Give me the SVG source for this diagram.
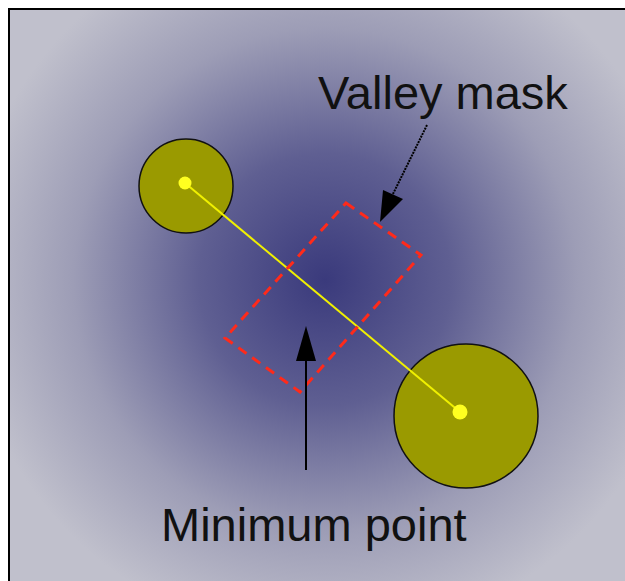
<svg xmlns="http://www.w3.org/2000/svg" width="625" height="581" viewBox="0 0 625 581">
<defs>
<radialGradient id="bg" cx="325" cy="280" r="360" gradientUnits="userSpaceOnUse">
<stop offset="0" stop-color="#3a3a7c"/>
<stop offset="0.35" stop-color="#5f5f92"/>
<stop offset="0.7" stop-color="#9d9db6"/>
<stop offset="1" stop-color="#c0c0cc"/>
</radialGradient>
<style>
.lbl{font-family:"Liberation Sans",Arial,sans-serif;font-size:47px;fill:#111}
.big{fill:#9a9a00;stroke:#111;stroke-width:1.5}
.dot{fill:#ffff20}
.mask{fill:none;stroke:#ff2a1a;stroke-width:3;stroke-dasharray:10 7}
.arr{stroke:#000;stroke-width:2;fill:none}
.head{fill:#000}
</style>
</defs>
<rect width="625" height="581" fill="#fff"/>
<rect x="9" y="9" width="616" height="572" fill="url(#bg)"/>
<path d="M9 581V9H625" fill="none" stroke="#000" stroke-width="2"/>
<g id="node-left">
<circle class="big" cx="186" cy="186" r="47"/>
</g>
<g id="node-right">
<circle class="big" cx="466" cy="416" r="72"/>
</g>
<g id="connectors">
<line x1="185" y1="183" x2="460" y2="412" stroke="#f0f000" stroke-width="2"/>
<polygon class="mask" points="346,203 421,255 300,392 225,338"/>
<line class="arr" x1="306" y1="470" x2="306" y2="355"/>
<polygon class="head" points="306,326 296,361 316,361"/>
<line class="arr" x1="427" y1="125" x2="391" y2="198" stroke-dasharray="2 1"/>
<polygon class="head" points="380,222 383,190 403,199"/>
</g>
<g id="dots">
<circle class="dot" cx="185" cy="183" r="6.5"/>
<circle class="dot" cx="460" cy="412" r="7.5"/>
</g>
<g id="labels">
<text class="lbl" x="318" y="109">Valley mask</text>
<text class="lbl" x="161" y="541">Minimum point</text>
</g>
</svg>
